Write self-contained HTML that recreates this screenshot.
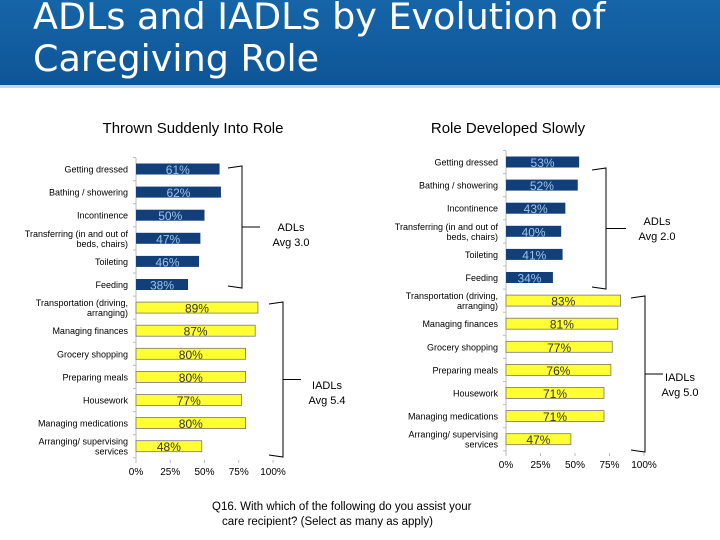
<!DOCTYPE html>
<html><head><meta charset="utf-8"><style>
body{margin:0;width:720px;height:540px;overflow:hidden;background:#fff;font-family:"Liberation Sans","DejaVu Sans",sans-serif}
#hdr{position:absolute;left:0;top:0;width:720px;height:85px;background:linear-gradient(#1565a8,#0e5597)}
#hdr div{position:absolute;left:33px;top:-4px;color:#fff;font-size:36.5px;line-height:42px;font-family:"DejaVu Sans",sans-serif}
#line{position:absolute;left:0;top:85px;width:720px;height:3px;background:#c7d8ea}
svg{position:absolute;left:0;top:0}
</style></head><body>
<div id="hdr"><div>ADLs and IADLs by Evolution of<br>Caregiving Role</div></div>
<div id="line"></div>
<svg id="c" width="720" height="540"></svg>
<script>
const categories=["Getting dressed","Bathing / showering","Incontinence","Transferring (in and out of|beds, chairs)","Toileting","Feeding","Transportation (driving,|arranging)","Managing finances","Grocery shopping","Preparing meals","Housework","Managing medications","Arranging/ supervising|services"];
const suddenValues=[61,62,50,47,46,38,89,87,80,80,77,80,48];
const slowValues=[53,52,43,40,41,34,83,81,77,76,71,71,47];
const tickLabels=["0%","25%","50%","75%","100%"];
const tickValues=[0,25,50,75,100];
const NS="http://www.w3.org/2000/svg",svg=document.getElementById('c');
function mk(t,a,p){const e=document.createElementNS(NS,t);for(const k in a)e.setAttribute(k,a[k]);(p||svg).appendChild(e);return e;}
function chart(name,vals,x0,w,y0,step,axisBottom,title,titleX){
 const g=mk('g',{});
 const xs=v=>x0+v/100*w, ys=i=>y0+i*step;
 const t=mk('text',{x:titleX,y:133,'font-size':15,fill:'#000','text-anchor':'middle'},g);t.textContent=title;
 
 mk('line',{x1:x0,y1:ys(0)-11,x2:x0,y2:axisBottom,stroke:'#bbb'},g);
 for(let i=0;i<=categories.length;i++)mk('line',{x1:x0-3,y1:ys(i)-11.5,x2:x0,y2:ys(i)-11.5,stroke:'#bbb'},g);
 tickValues.forEach((v,i)=>{mk('line',{x1:xs(v),y1:axisBottom,x2:xs(v),y2:axisBottom+3,stroke:'#bbb'},g);
  const l=mk('text',{x:xs(v),y:axisBottom+15,'font-size':10,'text-anchor':'middle',fill:'#000'},g);l.textContent=tickLabels[i];
  });
 vals.forEach((v,i)=>{const adl=i<6,y=ys(i);
  const r=mk('rect',{x:x0,y:y-5.5,width:xs(v)-x0,height:11,fill:adl?'#123e7a':'#ffff33',stroke:adl?'none':'#777','stroke-width':0.8},g);
  
  const vl=mk('text',{x:(x0+xs(v))/2,y:y+5,'font-size':12,'text-anchor':'middle',fill:adl?'#9cc3ea':'#333'},g);vl.textContent=v+'%';
  
  const parts=categories[i].split('|');
  parts.forEach((p,j)=>{const c=mk('text',{x:x0-8,y:y+3.5+(parts.length>1?(j-0.5)*10:0),'font-size':9,'text-anchor':'end',fill:'#000'},g);c.textContent=p;
   });
 });
}
chart('chart-thrown-suddenly',suddenValues,136,137,169,23.1,460,'Thrown Suddenly Into Role',193);
chart('chart-developed-slowly',slowValues,506,138,162,23.1,453,'Role Developed Slowly',508);
function brace(x,y1,y2,tip,dx){const m=(y1+y2)/2;
 const p=mk('path',{d:`M${x-14*dx} ${y1} L${x} ${y1-2} L${x} ${m} L${x+tip*dx} ${m} M${x} ${m} L${x} ${y2+2} L${x-14*dx} ${y2}`,fill:'none',stroke:'#000','stroke-width':1});
 }
brace(242,168,286,18,1);brace(283,304,455,18,1);brace(606,170,287,20,1);brace(645,298,450,18,1);
function lbl(x,y,a,b){const t=mk('text',{x:x,y:y,'font-size':11,'text-anchor':'middle',fill:'#000'});
 
 const s1=mk('tspan',{x:x,dy:0},t);s1.textContent=a;const s2=mk('tspan',{x:x,dy:15},t);s2.textContent=b;}
lbl(291,231,'ADLs','Avg 3.0');lbl(327,389,'IADLs','Avg 5.4');lbl(657,225,'ADLs','Avg 2.0');lbl(680,381,'IADLs','Avg 5.0');
const q=mk('text',{x:212,y:510,'font-size':11.5,fill:'#000'});
const q1=mk('tspan',{x:212,dy:0},q);q1.textContent='Q16. With which of the following do you assist your';
const q2=mk('tspan',{x:222,dy:15},q);q2.textContent='care recipient?  (Select as many as apply)';
</script>
</body></html>
